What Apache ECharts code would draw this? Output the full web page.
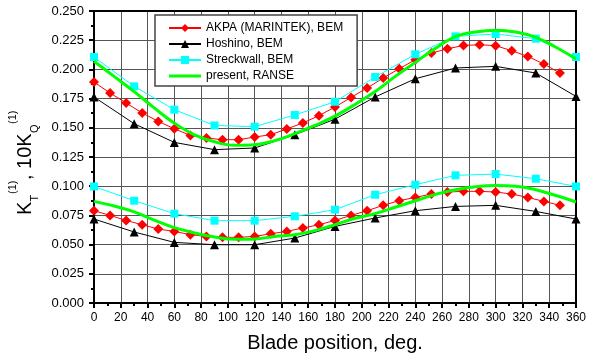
<!DOCTYPE html>
<html>
<head>
<meta charset="utf-8">
<script src="https://cdn.jsdelivr.net/npm/echarts@6/dist/echarts.min.js"></script>
<style>
  html, body { margin: 0; padding: 0; background: #fff; }
  #chart { width: 589px; height: 360px; }
</style>
</head>
<body>
<div id="chart"></div>
<script>
// Blade angle stations for each data source
const anglesAkpa = [0, 12, 24, 36, 48, 60, 72, 84, 96, 108, 120, 132, 144, 156, 168,
  180, 192, 204, 216, 228, 240, 252, 264, 276, 288, 300, 312, 324, 336, 348];
const anglesBem = [0, 30, 60, 90, 120, 150, 180, 210, 240, 270, 300, 330, 360];
const anglesRanse = [0, 15, 30, 45, 60, 75, 90, 105, 120, 135, 150, 165, 180,
  195, 210, 225, 240, 255, 270, 285, 300, 315, 330, 345, 360];

// First-harmonic thrust (KT) and torque (10KQ) coefficients
const akpaKT = [0.1892, 0.1798, 0.1712, 0.1627, 0.1555, 0.1492, 0.1435, 0.1413, 0.1398, 0.1398,
  0.1421, 0.1441, 0.1490, 0.1541, 0.1604, 0.1678, 0.1760, 0.1841, 0.1926, 0.2006,
  0.2083, 0.2140, 0.2177, 0.2205, 0.2211, 0.2203, 0.2160, 0.2111, 0.2046, 0.1969];
const akpaKQ = [0.0790, 0.0750, 0.0707, 0.0670, 0.0633, 0.0613, 0.0585, 0.0570, 0.0562, 0.0562,
  0.0570, 0.0593, 0.0613, 0.0642, 0.0670, 0.0707, 0.0750, 0.0790, 0.0836, 0.0876,
  0.0904, 0.0933, 0.0950, 0.0956, 0.0956, 0.0950, 0.0933, 0.0904, 0.0870, 0.0836];

const hoshinoKT = [0.1764, 0.1535, 0.1375, 0.1313, 0.1327, 0.1441, 0.1574, 0.1764, 0.1920, 0.2012, 0.2026, 0.1969, 0.1769];
const hoshinoKQ = [0.0719, 0.0608, 0.0519, 0.0499, 0.0499, 0.0556, 0.0656, 0.0728, 0.0790, 0.0827, 0.0836, 0.0784, 0.0719];

const streckKT = [0.2106, 0.1855, 0.1655, 0.1520, 0.1510, 0.1610, 0.1723, 0.1935, 0.2129, 0.2283, 0.2303, 0.2263, 0.2106];
const streckKQ = [0.0998, 0.0876, 0.0765, 0.0705, 0.0705, 0.0742, 0.0799, 0.0927, 0.1013, 0.1093, 0.1104, 0.1064, 0.0998];

const ranseKT = [0.207, 0.194, 0.181, 0.167, 0.154, 0.144, 0.138, 0.135, 0.1355, 0.139, 0.145, 0.152, 0.160,
  0.170, 0.181, 0.194, 0.206, 0.218, 0.228, 0.232, 0.2335, 0.232, 0.2275, 0.219, 0.209];
const ranseKQ = [0.087, 0.083, 0.078, 0.071, 0.0645, 0.060, 0.0565, 0.0545, 0.0548, 0.057, 0.0585, 0.062, 0.067,
  0.0725, 0.0765, 0.082, 0.0875, 0.093, 0.097, 0.0995, 0.1005, 0.100, 0.097, 0.092, 0.0865];

const seriesNames = ['AKPA (MARINTEK), BEM', 'Hoshino, BEM', 'Streckwall, BEM', 'present, RANSE'];

const pair = (xs, ys) => ys.map((y, i) => [xs[i], y]);
const FONT = 'Arial, "Liberation Sans", sans-serif';

function markerSeries(name, xs, ys, color, symbol, size) {
  return {
    name, type: 'line', data: pair(xs, ys),
    symbol, symbolSize: size, showAllSymbol: true,
    lineStyle: { color, width: 1 },
    itemStyle: { color, borderWidth: 0 },
    z: 3, animation: false
  };
}
function ranseSeries(ys) {
  return {
    name: seriesNames[3], type: 'line', data: pair(anglesRanse, ys),
    symbol: 'none', smooth: 0.4,
    lineStyle: { color: '#00ff00', width: 3 },
    itemStyle: { color: '#00ff00' },
    z: 4, animation: false
  };
}

const chart = echarts.init(document.getElementById('chart'), null, { renderer: 'canvas' });

// y-axis title K_T^(1), 10K_Q^(1) built from pieces in a rotated group
function piece(text, x, y, size) {
  return {
    type: 'text', x, y,
    style: { text, font: size + 'px ' + FONT, fill: '#000', textAlign: 'left', textVerticalAlign: 'middle' }
  };
}

chart.setOption({
  animation: false,
  backgroundColor: '#fff',
  grid: { left: 94, right: 11, top: 11, bottom: 57, show: true, borderColor: '#000', borderWidth: 2, z: 3 },
  legend: {
    data: [
      seriesNames[0], seriesNames[1], seriesNames[2],
      // plain thick line as the key for the solution curve
      { name: seriesNames[3], icon: 'path://M0,0H32V3H0Z' }
    ],
    orient: 'vertical',
    left: 155, top: 15,
    padding: [6, 14, 3, 13],
    itemWidth: 32, itemHeight: 10, itemGap: 2,
    backgroundColor: '#fff',
    borderColor: '#444', borderWidth: 1.5,
    textStyle: { fontFamily: FONT, fontSize: 12, color: '#000', lineHeight: 14 },
    z: 6
  },
  xAxis: {
    type: 'value', min: 0, max: 360, interval: 20,
    name: 'Blade position, deg.', nameLocation: 'middle', nameGap: 30,
    nameTextStyle: { fontFamily: FONT, fontSize: 20, color: '#000' },
    axisLine: { show: true, lineStyle: { color: '#000', width: 2 } },
    axisTick: { show: true, length: 5, lineStyle: { color: '#000', width: 2 } },
    minorTick: { show: true, splitNumber: 2, length: 3, lineStyle: { color: '#000', width: 2 } },
    axisLabel: { fontFamily: FONT, fontSize: 12, color: '#000', margin: 9 },
    splitLine: { show: true, lineStyle: { color: '#555', width: 1 } }
  },
  yAxis: {
    type: 'value', min: 0, max: 0.25, interval: 0.025,
    axisLine: { show: true, lineStyle: { color: '#000', width: 2 } },
    axisTick: { show: true, length: 5, lineStyle: { color: '#000', width: 2 } },
    minorTick: { show: true, splitNumber: 2, length: 3, lineStyle: { color: '#000', width: 2 } },
    axisLabel: { fontFamily: FONT, fontSize: 13, color: '#000', margin: 10, formatter: v => v.toFixed(3) },
    splitLine: { show: true, lineStyle: { color: '#555', width: 1 } }
  },
  graphic: [{
    type: 'group', x: 32, y: 215, rotation: Math.PI / 2,
    children: [
      piece('K', 0, -7, 20),
      piece('T', 13.5, 2.5, 11),
      piece('(1)', 21, -19, 11),
      piece(', 10K', 35, -7, 20),
      piece('Q', 82, 2.5, 11),
      piece('(1)', 91, -19, 11)
    ]
  }],
  series: [
    markerSeries(seriesNames[0], anglesAkpa, akpaKT, '#ff0000', 'diamond', 10),
    markerSeries(seriesNames[0], anglesAkpa, akpaKQ, '#ff0000', 'diamond', 10),
    markerSeries(seriesNames[1], anglesBem, hoshinoKT, '#000000', 'triangle', 9),
    markerSeries(seriesNames[1], anglesBem, hoshinoKQ, '#000000', 'triangle', 9),
    markerSeries(seriesNames[2], anglesBem, streckKT, '#00ffff', 'rect', 8),
    markerSeries(seriesNames[2], anglesBem, streckKQ, '#00ffff', 'rect', 8),
    ranseSeries(ranseKT),
    ranseSeries(ranseKQ)
  ]
});
</script>
</body>
</html>
